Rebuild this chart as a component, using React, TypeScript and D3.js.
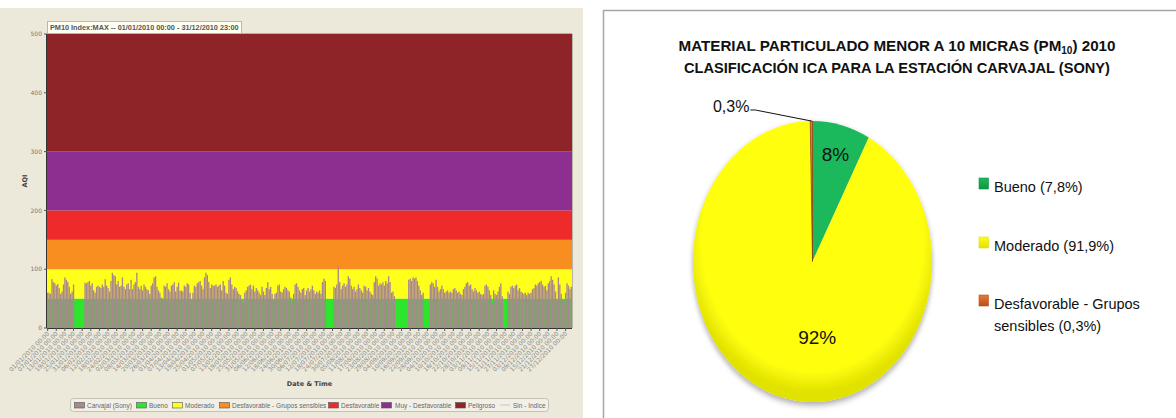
import React from "react";
import * as d3 from "d3";

// daily max PM10 AQI, Carvajal (Sony) 2010 — null = no data
const startDate = new Date(2010, 0, 1);
const q1: (number | null)[] = [
  60, 60, 58, 83, 78, 76, 72, 75, 68, 58, 62, 74, 86, 82, 78, 70, 58, 62, 74,
  null, null, null, null, null, null, null,
  77, 76, 78, 80, 72, 76, 64, 60, 70, 72, 70, 68, 74, 70, 83, 72, 68, 62, 80, 94,
  90, 88, 74, 80, 70, 72, 86, 70, 66, 74, 76, 66, 82, 66, 74, 78, 94, 70, 66, 72,
  64, 74, 70, 66, 64, 58, 72, 76, 86, 88, 70, 64, 60, 52, 50, 72, 70, 76, 66, 62,
  72, 74, 78, 62, 70,
];
const q2: (number | null)[] = [
  77, 63, 64, 62, 72, 70, 76, 74, 60, 47, 60, 72, 70, 76, 78, 80, 72, 66, 86, 94,
  90, 78, 68, 74, 72, 72, 74, 70, 72, 74, 64, 80, 72, 60, 58, 82, 86, 74, 66, 70,
  68, 62, 58, 56, 47, 42, 60, 64, 70, 72, 74, 66, 72, 62, 68, 64, 60, 56, 70, 62,
  56, 68, 78, 66, 70, 58, 47, 58, 60, 72, 74, 62, 60, 66, 70, 68, 64, 62, 52, 46,
  58, 74, 76, 70, 64, 60, 66, 68, 56, 64, 68, 62,
];
const q3: (number | null)[] = [
  66, 72, 64, 58, 62, 60, 64, 58, 78, 84, 80,
  null, null, null, null, null,
  70, 68, 74, 104, 78, 66, 72, 76, 70, 74, 88, 84, 72, 66, 70, 62, 66, 74, 68, 64,
  60, 72, 70, 64, 68, 62, 58, 56, 78, 88, 84, 72, 76, 74, 78, 72, 80, 76, 88, 78,
  60, 62, 54,
  null, null, null, null, null, null, null, null, null,
  82, 84, 80, 86, 84, 86, 80, 72, 64, 56, 60,
  null, null, null, null,
  74, 78, 76, 70, 82, 70, 62, 66,
];
const q4: (number | null)[] = [
  72, 66, 60, 62, 64, 60, 62, 60, 66, 68, 64, 60, 62, 58, 56, 66, 70, 76, 78, 72,
  74, 66, 62, 68, 64, 60, 62, 58, 56, 58, 72, 74, 70, 64, 56, 42, 64, 58, 56, 62,
  70, 76, 54,
  null, null, null,
  62, 58, 70, 72, 68, 72, 74, 64, 68, 62, 60, 58, 60, 56, 60, 58, 60, 66, 68, 74,
  72, 76, 78, 80, 74, 70, 72, 64, 76, 80, 88, 82, 74, 62, 48, 86, 74, 58, 48, 44,
  60, 76, 72, 66, 70,
];
const dailyAqi = [...q1, ...q2, ...q3, ...q4];

const aqiBreaks = [0, 50, 100, 150, 200, 300, 500];
const bandColors = ["#2EE52E", "#FFFF1C", "#F88D20", "#EF2A2A", "#8D2E91", "#8E2427"];
const yTicks = [0, 100, 200, 300, 400, 500];
const barColor = "#A8878D";

const legendNames = [
  "Carvajal  (Sony)", "Bueno", "Moderado", "Desfavorable - Grupos sensibles",
  "Desfavorable", "Muy - Desfavorable", "Peligroso", "Sin - Indice",
];
const legendColors = [barColor, ...bandColors];

// pie: share of days per ICA class
const pieNames = ["Bueno", "Moderado", "Desfavorable - Grupos sensibles"];
const pieShares = [7.8, 91.9, 0.3];
const pieLabels = ["8%", "92%", "0,3%"];
const pieLegend = [["Bueno (7,8%)"], ["Moderado (91,9%)"], ["Desfavorable - Grupos", "sensibles (0,3%)"]];
const pieColors = [
  ["#1DB95C", "#0E9444"],
  ["#FFFF10", "#E2E200"],
  ["#E87A30", "#B8501A"],
];

const leftFont = "DejaVu Sans, Verdana, sans-serif";
const narrowFont = "Liberation Sans, Arial, sans-serif";
const rightFont = "Liberation Sans, Arial, sans-serif";

const AqiChart = () => {
  const plot = { left: 47, right: 572, top: 34, bottom: 328 };
  const x = d3.scaleBand<number>()
    .domain(d3.range(dailyAqi.length))
    .range([plot.left, plot.right])
    .paddingInner(0.08);
  const y = d3.scaleLinear().domain([0, 500]).range([plot.bottom, plot.top]);
  const fmt = d3.timeFormat("%d/%m/%Y %H:%M");
  const tickDays = d3.range(0, dailyAqi.length, 6);
  const bw = x.bandwidth();
  // legend layout (x of swatch, text follows)
  const legendX = [74, 136, 172, 219, 328, 381, 455, 500];

  return (
    <g fontFamily={leftFont}>
      <rect x={0} y={8} width={583} height={410} fill="#ECE9DB" />
      {/* AQI background bands */}
      {bandColors.map((c, i) => (
        <rect key={i} x={plot.left} width={plot.right - plot.left}
          y={y(aqiBreaks[i + 1])} height={y(aqiBreaks[i]) - y(aqiBreaks[i + 1])} fill={c} />
      ))}
      {dailyAqi.map((v, i) => v == null ? null : (
        <rect key={i} x={x(i)} width={bw} y={y(v)} height={y(0) - y(v)} fill={barColor} />
      ))}
      <line x1={plot.right + 0.5} x2={plot.right + 0.5} y1={plot.top} y2={plot.bottom} stroke="#B9B4A8" />
      <line x1={plot.left} x2={plot.right} y1={plot.top - 0.5} y2={plot.top - 0.5} stroke="#C9A4A4" />
      {/* y axis */}
      <line x1={plot.left - 0.5} x2={plot.left - 0.5} y1={plot.top} y2={plot.bottom} stroke="#333" />
      {yTicks.map((t) => (
        <g key={t}>
          <line x1={plot.left - 3} x2={plot.left} y1={y(t)} y2={y(t)} stroke="#555" />
          <text x={plot.left - 5} y={y(t) + 2.2} textAnchor="end" fontSize={6} fill="#777">{t}</text>
        </g>
      ))}
      <text transform={`translate(27,${(plot.top + plot.bottom) / 2}) rotate(-90)`} textAnchor="middle"
        fontSize={6.5} fontWeight="bold" fill="#444">AQI</text>
      {/* x axis */}
      <line x1={plot.left} x2={plot.right} y1={plot.bottom + 0.5} y2={plot.bottom + 0.5} stroke="#333" />
      {tickDays.map((d) => {
        const tx = (x(d) ?? 0) + bw / 2;
        return (
          <g key={d}>
            <line x1={tx} x2={tx} y1={plot.bottom} y2={plot.bottom + 3} stroke="#555" />
            <text transform={`translate(${tx + 2},${plot.bottom + 6}) rotate(-45)`} textAnchor="end"
              fontSize={6} fill="#8A8A8A">{fmt(d3.timeDay.offset(startDate, d))}</text>
          </g>
        );
      })}
      <text x={(plot.left + plot.right) / 2} y={386} textAnchor="middle" fontSize={6.5}
        fontWeight="bold" fill="#444">Date &amp; Time</text>
      {/* header box */}
      <rect x={47.5} y={21.5} width={194} height={12} fill="#FEFEF2" stroke="#B8B8B0" />
      <text x={50} y={30.3} fontSize={7.3} fontWeight="bold" fill="#555" fontFamily={narrowFont}>
        PM10 Index:MAX -- 01/01/2010 00:00  -  31/12/2010 23:00
      </text>
      {/* legend */}
      <rect x={70.5} y={398.5} width={478} height={13} rx={3} fill="#F2F0E6" stroke="#C4C2B8" />
      {legendNames.map((n, i) => {
        const lx = legendX[i];
        const isLine = i === legendNames.length - 1;
        return (
          <g key={n}>
            {isLine ? (
              <line x1={lx} x2={lx + 10} y1={405} y2={405} stroke="#C8C8C0" />
            ) : (
              <rect x={lx + 0.5} y={402.5} width={10} height={5.5} fill={legendColors[i]} stroke="#555" strokeWidth={0.6} />
            )}
            <text x={lx + (i === 5 ? 14 : 13)} y={408} fontSize={6.5} fill="#666" fontFamily={narrowFont}>{n}</text>
          </g>
        );
      })}
    </g>
  );
};

const PieChart = () => {
  const cx = 812.5, cy = 261.5, ry = 140.5, rx = 119.5;
  const sx = rx / ry;
  const arcs = d3.pie<number>().sort(null).value((d) => d)(pieShares);
  const arcGen = d3.arc<d3.PieArcDatum<number>>().innerRadius(0).outerRadius(ry);
  const labelR = [0.79, 0.55];
  const at = (a: d3.PieArcDatum<number>, r: number) => {
    const c = d3.arc<d3.PieArcDatum<number>>().innerRadius(ry * r).outerRadius(ry * r).centroid(a);
    return [cx + c[0] * sx, cy + c[1]];
  };
  const small = arcs[2];
  const edge = at(small, 1);
  const legendY = [178, 237, 295];

  return (
    <g fontFamily={rightFont}>
      <defs>
        {pieColors.map((c, i) => (
          <radialGradient key={i} id={`pg${i}`} gradientUnits="userSpaceOnUse" cx={0} cy={-20} r={ry + 10}>
            <stop offset="0" stopColor={c[0]} />
            <stop offset="0.86" stopColor={c[0]} />
            <stop offset="1" stopColor={c[1]} />
          </radialGradient>
        ))}
        {pieColors.map((c, i) => (
          <linearGradient key={i} id={`lg${i}`} x1="0" y1="0" x2="0" y2="1">
            <stop offset="0" stopColor={c[0]} />
            <stop offset="1" stopColor={c[1]} />
          </linearGradient>
        ))}
        <filter id="pshadow" x="-20%" y="-20%" width="140%" height="140%">
          <feDropShadow dx="0" dy="3" stdDeviation="3" floodColor="#000" floodOpacity="0.35" />
        </filter>
      </defs>
      <rect x={603.5} y={10.5} width={600} height={420} fill="#fff" stroke="#A6A6A6" strokeWidth={1.5} />
      <text x={897} y={51} textAnchor="middle" fontSize={15.2} fontWeight="bold" fill="#111">
        MATERIAL PARTICULADO MENOR A 10 MICRAS (PM
        <tspan fontSize={10} dy={3}>10</tspan>
        <tspan dy={-3}>) 2010</tspan>
      </text>
      <text x={897} y={73} textAnchor="middle" fontSize={15.2} fontWeight="bold" fill="#111"
        textLength={426} lengthAdjust="spacingAndGlyphs">
        CLASIFICACIÓN ICA PARA LA ESTACIÓN CARVAJAL (SONY)
      </text>
      <g transform={`translate(${cx},${cy}) scale(${sx},1)`} filter="url(#pshadow)">
        {arcs.map((a, i) => (
          <path key={pieNames[i]} d={arcGen(a) ?? ""} fill={`url(#pg${i})`}
            stroke={i === 2 ? "#8B3A10" : "none"} strokeWidth={0.8} />
        ))}
      </g>
      {arcs.slice(0, 2).map((a, i) => {
        const [lx, ly] = at(a, labelR[i]);
        return (
          <text key={i} x={lx + (i === 1 ? 20 : 0)} y={ly + 7} textAnchor="middle" fontSize={19} fill="#111">{pieLabels[i]}</text>
        );
      })}
      <polyline points={`${edge[0]},${edge[1]} ${edge[0] - 56},${edge[1] - 11} ${edge[0] - 61},${edge[1] - 11}`}
        fill="none" stroke="#111" strokeWidth={1} />
      <text x={edge[0] - 62} y={edge[1] - 9} textAnchor="end" fontSize={16} fill="#111">{pieLabels[2]}</text>
      {pieLegend.map((lines, i) => (
        <g key={i}>
          <rect x={979} y={legendY[i]} width={9.5} height={11} fill={`url(#lg${i})`} stroke={pieColors[i][1]} strokeWidth={0.6} />
          {lines.map((t, j) => (
            <text key={j} x={994} y={legendY[i] + 14 + j * 22} fontSize={14.5} fill="#111">{t}</text>
          ))}
        </g>
      ))}
    </g>
  );
};

export default function App() {
  return (
    <svg width={1176} height={418} style={{ position: "absolute", left: 0, top: 0, background: "#fff" }}>
      <AqiChart />
      <PieChart />
    </svg>
  );
}
